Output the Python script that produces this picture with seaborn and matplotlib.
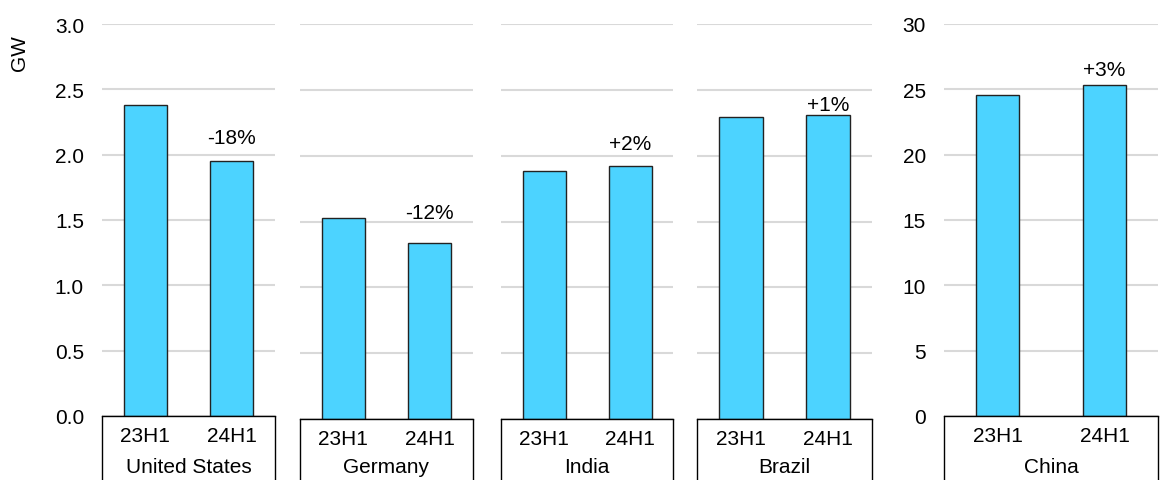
import pandas as pd
import matplotlib.pyplot as plt
import seaborn as sns

sns.set_theme(style="white")
plt.rcParams['font.family'] = ['Liberation Sans', 'DejaVu Sans']
plt.rcParams['text.color'] = 'black'

# Data (GW, first-half installations)
countries = ['United States', 'Germany', 'India', 'Brazil', 'China']
periods = ['23H1', '24H1']
gw_23h1 = [2.38, 1.525, 1.88, 2.29, 24.55]
gw_24h1 = [1.95, 1.34, 1.92, 2.31, 25.35]
change_labels = ['-18%', '-12%', '+2%', '+1%', '+3%']
label_y = [2.135, 1.57, 2.09, 2.39, 26.55]

rows = []
for c, a, b in zip(countries, gw_23h1, gw_24h1):
    rows.append({'country': c, 'period': periods[0], 'gw': a})
    rows.append({'country': c, 'period': periods[1], 'gw': b})
df = pd.DataFrame(rows)

W, H = 1161, 481
fig = plt.figure(figsize=(W / 100, H / 100), dpi=100)

# panel boxes in pixels: left, width, bottom(y px), top(y px)
panels = [(102, 173, 417, 25), (300, 173, 420, 25), (501, 172, 420, 25),
          (697, 175, 420, 25), (944, 214, 417, 25)]

bar_color = '#4CD3FF'
fs = 15
for i, c in enumerate(countries):
    l, w, b, t = panels[i]
    ax = fig.add_axes([l / W, (H - b) / H, w / W, (b - t) / H])
    sub = df[df['country'] == c]
    is_china = c == 'China'
    sns.barplot(data=sub, x='period', y='gw', ax=ax, color=bar_color,
                width=0.4 if is_china else 0.5, edgecolor='#222222',
                linewidth=1, saturation=1)
    if is_china:
        ax.set_ylim(0, 30)
        ax.set_yticks(range(0, 31, 5))
    else:
        ax.set_ylim(0, 3)
        ax.set_yticks([0, 0.5, 1, 1.5, 2, 2.5, 3])
        ax.set_yticklabels([f'{v:.1f}' for v in ax.get_yticks()])
    if i not in (0, 4):
        ax.tick_params(axis='y', labelleft=False)
    ax.set_xlim(-0.5, 1.5)
    ax.grid(axis='y', color='#D9D9D9', linewidth=1.5)
    ax.set_axisbelow(True)
    ax.tick_params(axis='both', length=0, labelsize=fs, colors='black')
    ax.tick_params(axis='y', pad=13)
    ax.tick_params(axis='x', pad=7)
    ax.set_xlabel('')
    ax.set_ylabel('')
    for s in ['left', 'right', 'top']:
        ax.spines[s].set_visible(False)
    ax.spines['bottom'].set_color('black')
    ax.spines['bottom'].set_linewidth(1)
    ax.spines['bottom'].set_zorder(3)

    # category box below axis
    ax.plot([0, 0], [0, -0.3], transform=ax.transAxes, color='black', lw=1, clip_on=False)
    ax.plot([1, 1], [0, -0.3], transform=ax.transAxes, color='black', lw=1, clip_on=False)
    ax.text(0.5, (b - 468) / (b - t), c, transform=ax.transAxes,
            ha='center', va='center', fontsize=fs)

    ax.text(1, label_y[i], change_labels[i], ha='center', va='center', fontsize=fs)

fig.text(20 / W, 1 - 53 / H, 'GW', rotation=90, ha='center', va='center', fontsize=fs)

fig.savefig('out.png', dpi=100)
